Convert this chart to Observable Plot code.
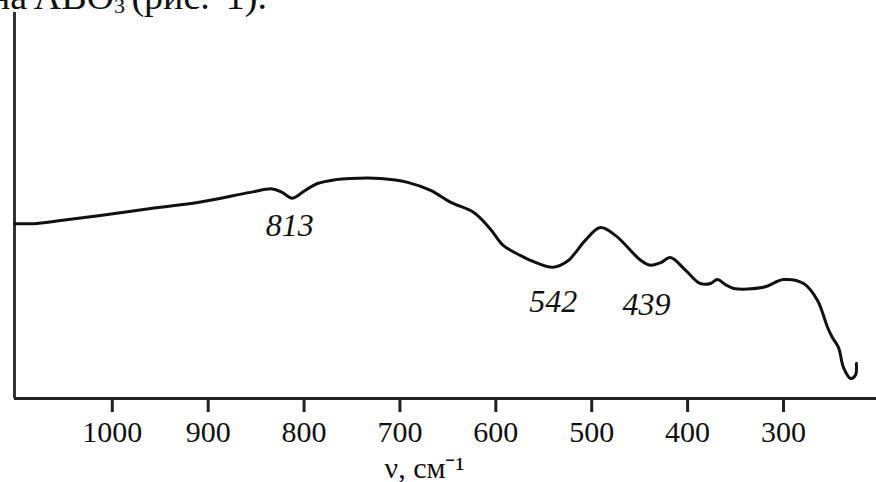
<!DOCTYPE html>
<html>
<head>
<meta charset="utf-8">
<script src="https://cdn.jsdelivr.net/npm/d3@7"></script>
<script src="https://cdn.jsdelivr.net/npm/@observablehq/plot@0.6"></script>
<style>
  html, body { margin: 0; padding: 0; background: #fff; overflow: hidden; }
  #wrap { position: relative; width: 876px; height: 482px; }
  #head { position: absolute; left: -10px; top: -23px; font: 38px "Liberation Serif", serif; line-height: 38px; color: #111; white-space: nowrap; word-spacing: -3px; z-index: 2; }
  #head sub { font-size: 22px; vertical-align: -4px; line-height: 0; }
  #head .gap { margin-left: 16px; }
  #chart { position: absolute; left: 0; top: 0; }
</style>
</head>
<body>
<div id="wrap">
  <div id="head">на ABO<sub>3</sub> (рис.<span class="gap">1).</span></div>
  <div id="chart"></div>
</div>
<script>
// Wavenumber (cm^-1) and relative transmittance (arbitrary units)
const wavenumber = [1102, 1082, 1054, 1012.5, 960, 908, 856, 833, 823, 812, 799, 786, 767, 752, 720, 692, 668, 647, 623, 606, 592, 574, 564, 540, 524, 517, 507, 491, 475, 449, 439, 428, 418, 402, 387, 376, 369, 360.5, 352, 321, 300, 279, 264.5, 254, 249, 242.6, 237.4, 230, 225, 224];
const transmittance = [45.3, 45.3, 46.1, 47.4, 49.2, 50.9, 53.4, 54.3, 53.4, 51.9, 53.9, 55.7, 56.7, 57.0, 57.0, 56.0, 53.9, 50.8, 48.2, 44.0, 39.6, 37.0, 35.8, 34.0, 35.8, 37.8, 40.9, 44.3, 42.2, 35.8, 34.5, 35.2, 36.5, 33.2, 29.8, 29.8, 30.8, 29.5, 28.5, 28.8, 30.8, 29.8, 25.4, 18.4, 15.8, 13.2, 8.0, 5.2, 6.0, 9.1];
const xTicks = [1000, 900, 800, 700, 600, 500, 400, 300];
const peakLabels = ["813", "542", "439"];
const peakPositions = [815, 540, 443];
const labelOffsets = [28, 34, 39];
const xLabel = "ν, см⁻¹";
const xDomain = [1102, 203];
const yDomain = [0, 100];

const spectrum = wavenumber.map((w, i) => ({w, t: transmittance[i]}));
function valueAt(w) {
  let best = spectrum[0];
  for (const d of spectrum) if (Math.abs(d.w - w) < Math.abs(best.w - w)) best = d;
  return best.t;
}

const peakMarks = peakLabels.map((lab, i) =>
  Plot.text([{w: peakPositions[i], t: valueAt(peakPositions[i]), lab}], {
    x: "w", y: "t", text: "lab", dy: labelOffsets[i],
    fontSize: 32, fontStyle: "italic", fill: "#111", textAnchor: "middle", lineAnchor: "middle"
  })
);

const chart = Plot.plot({
  width: 876,
  height: 482,
  marginLeft: 14,
  marginRight: 0,
  marginTop: 12,
  marginBottom: 84,
  style: {fontFamily: "'Liberation Serif', 'Times New Roman', serif", background: "transparent", color: "#111"},
  x: {domain: xDomain},
  y: {domain: yDomain, axis: null},
  marks: [
    Plot.axisX({ticks: xTicks, tickFormat: d => String(d), tickSize: 14, tickPadding: 8, strokeWidth: 3, fontSize: 30, label: null, stroke: "#222", fill: "#111"}),
    Plot.ruleY([yDomain[0]], {stroke: "#222", strokeWidth: 3}),
    Plot.ruleX([xDomain[0]], {stroke: "#333", strokeWidth: 3}),
    Plot.line(spectrum, {x: "w", y: "t", stroke: "#111", strokeWidth: 3, curve: "catmull-rom"}),
    ...peakMarks,
    Plot.text([xLabel], {frameAnchor: "bottom", dx: -21, dy: 70, fontSize: 30, fill: "#111", textAnchor: "middle", lineAnchor: "middle"})
  ]
});
document.getElementById("chart").appendChild(chart);
</script>
</body>
</html>
